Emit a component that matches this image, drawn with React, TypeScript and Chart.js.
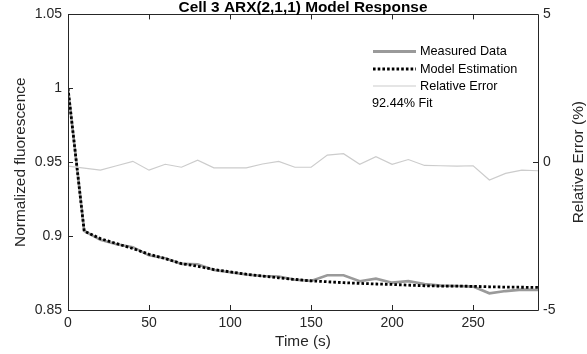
import React, { useEffect, useRef } from "react";
import { Chart, registerables } from "chart.js";

Chart.register(...registerables);

const timeS = [0, 10, 20, 30, 40, 50, 60, 70, 80, 90, 100, 110, 120, 130, 140, 150, 160, 170, 180, 190, 200, 210, 220, 230, 240, 250, 260, 270, 280, 290];
const measuredData = [1.0, 0.9035, 0.8975, 0.8945, 0.8925, 0.887, 0.885, 0.8812, 0.881, 0.877, 0.8755, 0.874, 0.873, 0.8727, 0.8705, 0.8697, 0.8735, 0.8735, 0.8695, 0.8712, 0.8685, 0.8695, 0.8675, 0.8665, 0.8662, 0.8658, 0.8613, 0.8628, 0.8638, 0.8635];
const modelEstimation = [1.0, 0.9034, 0.8983, 0.8949, 0.8916, 0.8877, 0.8848, 0.8814, 0.8796, 0.8774, 0.8758, 0.8742, 0.8729, 0.8718, 0.8707, 0.8697, 0.8691, 0.8685, 0.868, 0.8676, 0.8673, 0.8668, 0.8664, 0.8662, 0.8662, 0.866, 0.8657, 0.8655, 0.8654, 0.8653];
const relativeError = [-0.13, -0.2, -0.27, -0.12, 0.03, -0.27, -0.07, -0.17, 0.07, -0.19, -0.19, -0.19, -0.06, 0.03, -0.17, -0.17, 0.24, 0.29, -0.07, 0.19, -0.07, 0.09, -0.11, -0.12, -0.13, -0.12, -0.6, -0.38, -0.27, -0.29];

const seriesNames = ["Measured Data", "Model Estimation", "Relative Error"];
const fitText = "92.44% Fit";
const chartTitle = "Cell 3 ARX(2,1,1) Model Response";
const xTitle = "Time (s)";
const yTitle = "Normalized fluorescence";
const y2Title = "Relative Error (%)";

const FONT = "'Liberation Sans', Arial, Helvetica, sans-serif";
const AXIS = "#262626";
const TICK_SIZE = 14;
const LABEL_SIZE = 15.4;
const LEGEND_SIZE = 12.7;
const MEASURED_COLOR = "#9a9a9a";
const ERROR_COLOR = "#cccccc";
const MODEL_DASH = [2.6, 2.1];

const boxPlugin = {
  id: "matlabBox",
  afterDraw(chart: any) {
    const { ctx, chartArea } = chart;
    const { left, right, top, bottom } = chartArea;
    const x = chart.scales.x;
    const y = chart.scales.y;
    const y2 = chart.scales.y2;
    ctx.save();
    ctx.strokeStyle = AXIS;
    ctx.lineWidth = 1;
    ctx.beginPath();
    ctx.rect(Math.round(left) + 0.5, Math.round(top) + 0.5, Math.round(right - left), Math.round(bottom - top));
    ctx.stroke();
    const tl = 5;
    ctx.beginPath();
    x.ticks.forEach((t: any) => {
      const px = Math.round(x.getPixelForValue(t.value)) + 0.5;
      ctx.moveTo(px, bottom);
      ctx.lineTo(px, bottom - tl);
      ctx.moveTo(px, top);
      ctx.lineTo(px, top + tl);
    });
    y.ticks.forEach((t: any) => {
      const py = Math.round(y.getPixelForValue(t.value)) + 0.5;
      ctx.moveTo(left, py);
      ctx.lineTo(left + tl, py);
    });
    y2.ticks.forEach((t: any) => {
      const py = Math.round(y2.getPixelForValue(t.value)) + 0.5;
      ctx.moveTo(right, py);
      ctx.lineTo(right - tl, py);
    });
    ctx.stroke();

    // chart title
    ctx.fillStyle = "#000";
    ctx.font = `bold ${LABEL_SIZE}px ${FONT}`;
    ctx.textAlign = "center";
    ctx.textBaseline = "alphabetic";
    ctx.fillText(chartTitle, (left + right) / 2, 12);

    // right axis title, reading bottom to top
    ctx.fillStyle = AXIS;
    ctx.font = `${LABEL_SIZE}px ${FONT}`;
    ctx.textAlign = "center";
    ctx.textBaseline = "middle";
    ctx.save();
    ctx.translate(579, (top + bottom) / 2);
    ctx.rotate(-Math.PI / 2);
    ctx.fillText(y2Title, 0, 0);
    ctx.restore();
    ctx.restore();

    // legend
    ctx.save();
    const lx0 = 373;
    const lx1 = 416;
    const tx = 420;
    const rows = [51.5, 69, 86];
    const styles = [
      { color: MEASURED_COLOR, width: 3, dash: [] as number[] },
      { color: "#000000", width: 2.8, dash: MODEL_DASH },
      { color: ERROR_COLOR, width: 1.2, dash: [] as number[] },
    ];
    ctx.font = `${LEGEND_SIZE}px ${FONT}`;
    ctx.textBaseline = "middle";
    ctx.textAlign = "left";
    rows.forEach((ry, i) => {
      const s = styles[i];
      ctx.strokeStyle = s.color;
      ctx.lineWidth = s.width;
      ctx.setLineDash(s.dash);
      ctx.beginPath();
      ctx.moveTo(lx0, ry);
      ctx.lineTo(lx1, ry);
      ctx.stroke();
      ctx.fillStyle = "#000";
      ctx.fillText(seriesNames[i], tx, ry);
    });
    ctx.setLineDash([]);
    ctx.fillText(fitText, 372, 103.5);
    ctx.restore();
  },
};

const fmt = (v: any) => String(Math.round(Number(v) * 100) / 100);

export default function App() {
  const ref = useRef<HTMLCanvasElement>(null);
  useEffect(() => {
    document.body.style.margin = "0";
    const pts = (arr: number[]) => timeS.map((t, i) => ({ x: t, y: arr[i] }));
    const chart = new Chart(ref.current!, {
      type: "line",
      data: {
        datasets: [
          {
            label: seriesNames[0],
            data: pts(measuredData),
            borderColor: MEASURED_COLOR,
            borderWidth: 2.6,
            pointRadius: 0,
            yAxisID: "y",
            tension: 0,
            order: 3,
          },
          {
            label: seriesNames[1],
            data: pts(modelEstimation),
            borderColor: "#000000",
            borderWidth: 2.8,
            borderDash: MODEL_DASH,
            borderCapStyle: "butt",
            pointRadius: 0,
            yAxisID: "y",
            tension: 0,
            order: 2,
          },
          {
            label: seriesNames[2],
            data: pts(relativeError),
            borderColor: ERROR_COLOR,
            borderWidth: 1.2,
            pointRadius: 0,
            yAxisID: "y2",
            tension: 0,
            order: 1,
          },
        ],
      },
      options: {
        animation: false,
        responsive: false,
        maintainAspectRatio: false,
        layout: { padding: { top: 13, left: 0, right: 0, bottom: 0 } },
        plugins: {
          legend: { display: false },
          tooltip: { enabled: false },
          title: { display: false },
        },
        scales: {
          x: {
            type: "linear",
            min: 0,
            max: 290,
            grid: { display: false, drawTicks: false },
            border: { display: false },
            afterBuildTicks: (s: any) => {
              s.ticks = s.ticks.filter((t: any) => t.value % 50 === 0);
            },
            ticks: {
              stepSize: 50,
              color: AXIS,
              font: { family: FONT, size: TICK_SIZE },
              padding: 5,
              maxRotation: 0,
              callback: fmt,
            },
            title: {
              display: true,
              text: xTitle,
              color: AXIS,
              font: { family: FONT, size: LABEL_SIZE },
              padding: { top: 0, bottom: 3 },
            },
            afterFit: (s: any) => {
              s.height = 44;
            },
          },
          y: {
            position: "left",
            min: 0.85,
            max: 1.05,
            grid: { display: false, drawTicks: false },
            border: { display: false },
            ticks: {
              stepSize: 0.05,
              color: AXIS,
              font: { family: FONT, size: TICK_SIZE },
              padding: 6,
              callback: fmt,
            },
            title: {
              display: true,
              text: yTitle,
              color: AXIS,
              font: { family: FONT, size: LABEL_SIZE },
              padding: { top: 12, bottom: 0 },
            },
            afterFit: (s: any) => {
              s.width = 68;
            },
          },
          y2: {
            position: "right",
            min: -5,
            max: 5,
            grid: { display: false, drawTicks: false },
            border: { display: false },
            ticks: {
              stepSize: 5,
              color: AXIS,
              font: { family: FONT, size: TICK_SIZE },
              padding: 5,
              callback: fmt,
            },
            afterFit: (s: any) => {
              s.width = 49;
            },
          },
        },
      },
      plugins: [boxPlugin],
    });
    return () => chart.destroy();
  }, []);
  return (
    <div style={{ width: 587, height: 354 }}>
      <canvas ref={ref} width={587} height={354} style={{ display: "block" }} />
    </div>
  );
}
